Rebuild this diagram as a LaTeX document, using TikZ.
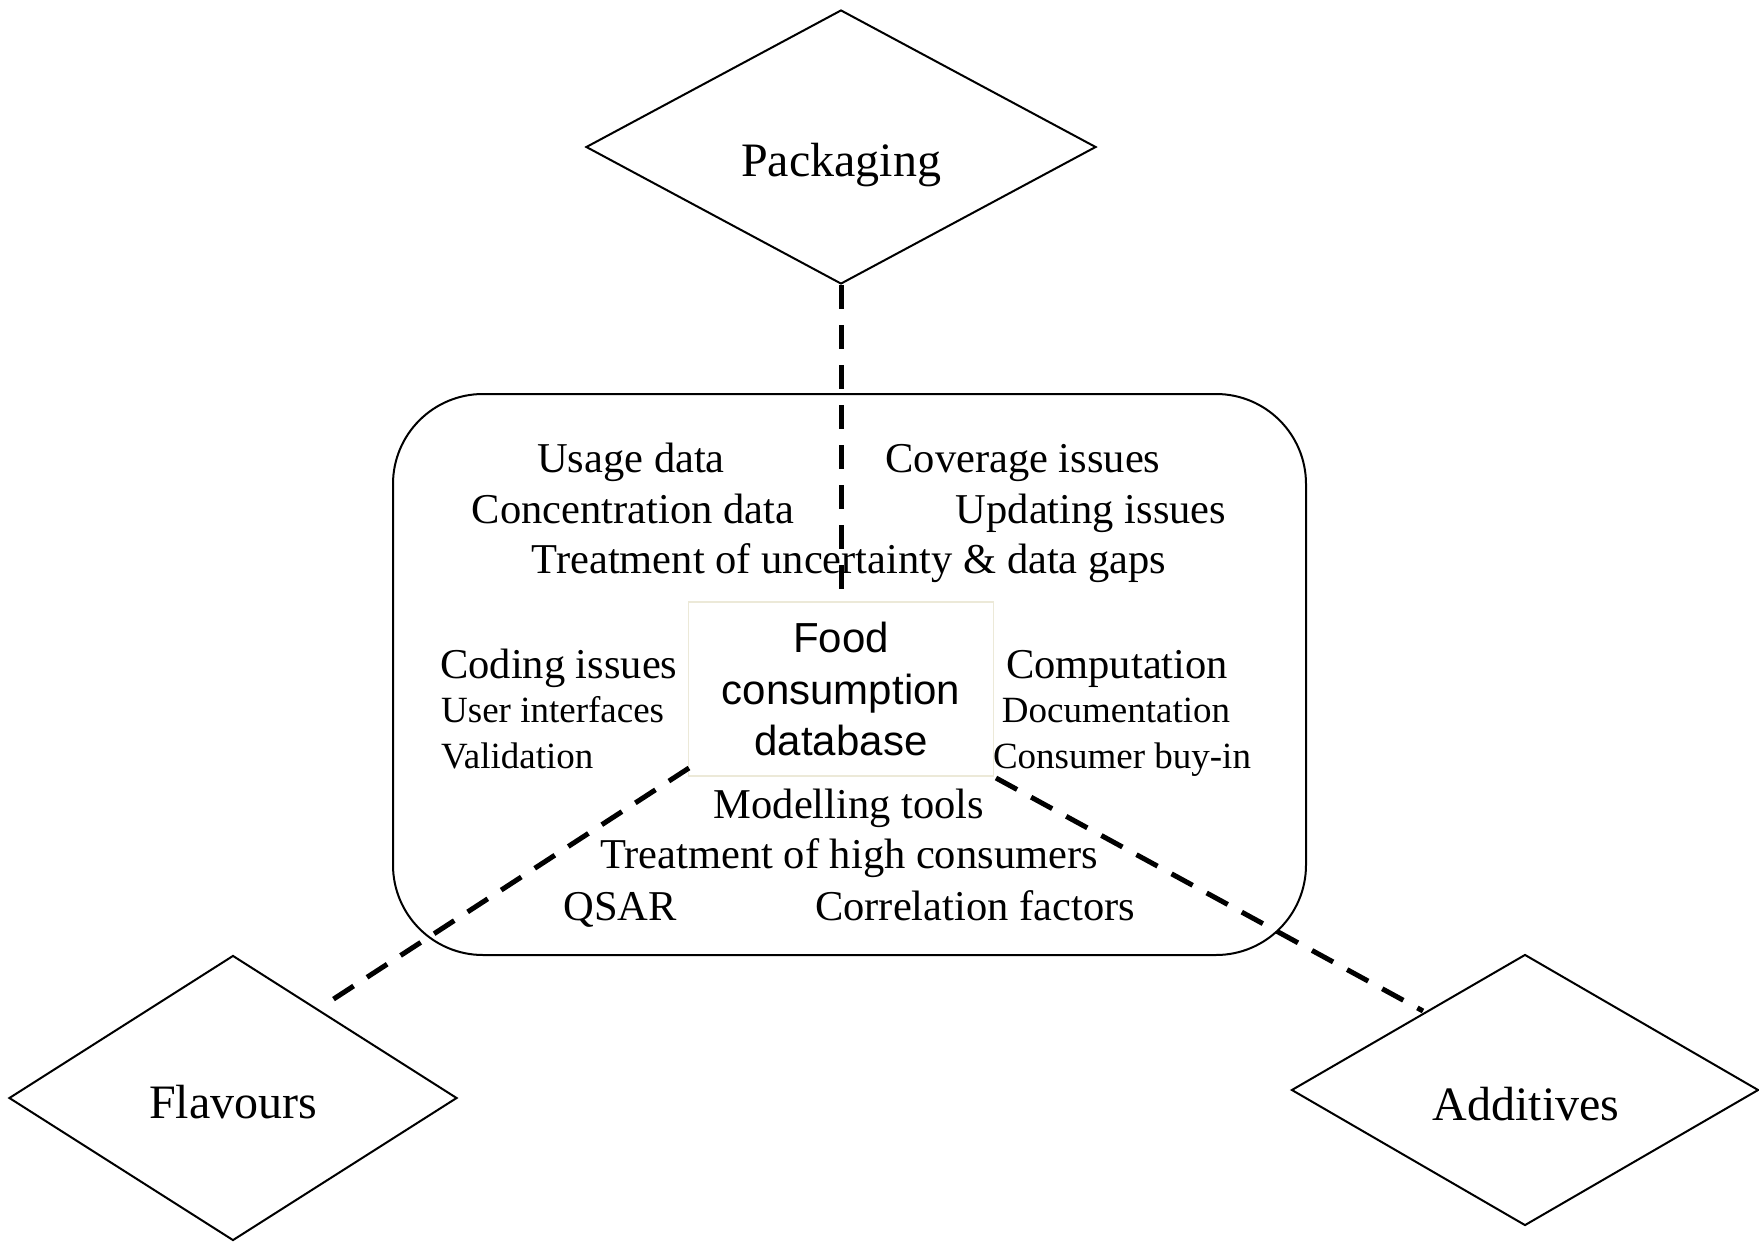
\documentclass[tikz,border=0pt]{standalone}
\usepackage{fontspec}
\setmainfont{Liberation Serif}
\newfontfamily\arialf{Liberation Sans}
\usetikzlibrary{shapes.geometric}
\begin{document}
\begin{tikzpicture}[x=1pt,y=-1pt,
  dia/.style={draw,line width=2pt,shape=diamond,inner sep=0pt},
  big/.style={font=\fontsize{42.5}{50}\selectfont,anchor=base,inner sep=0pt},
  small/.style={font=\fontsize{37}{44}\selectfont,anchor=base,inner sep=0pt},
  dlabel/.style={font=\fontsize{48}{56}\selectfont,anchor=base,inner sep=0pt},
  link/.style={line width=5pt,dash pattern=on 24pt off 16pt},
  dbbox/.style={draw={rgb,255:red,236;green,233;blue,216},line width=1.5pt,fill=white,
     minimum width=305pt,minimum height=174pt,inner sep=0pt,align=center,
     font=\arialf\fontsize{42}{51.5}\selectfont}]
\useasboundingbox (0,0) rectangle (1759,1242);
% diamonds
\node[dia,minimum width=510pt,minimum height=274pt] (pack) at (841,147) {};
\node[dia,minimum width=448pt,minimum height=285pt] (flav) at (233,1098) {};
\node[dia,minimum width=467pt,minimum height=271pt] (addi) at (1525,1090) {};
\node[dlabel] (packt) at (841,176) {Packaging};
\node[dlabel] (flavt) at (233,1118) {Flavours};
\node[dlabel] (addit) at (1526,1120) {Additives};
% rounded frame
\draw[line width=2pt,rounded corners=90pt] (393,394) rectangle (1306,955);
% texts
\node[big] (t1) at (631,472) {Usage data};
\node[big] (t2) at (1023,472) {Coverage issues};
\node[big] (t3) at (633,523) {Concentration data};
\node[big] (t4) at (1091,523) {Updating issues};
\node[big] (t5) at (849,573) {Treatment of uncertainty \& data gaps};
\node[big,anchor=base west] (t6) at (440,678) {Coding issues};
\node[small,anchor=base west] (t7) at (441,722) {User interfaces};
\node[small,anchor=base west] (t8) at (441,768) {Validation};
\node[big] (t9) at (1117,678) {Computation};
\node[small] (t10) at (1116,722) {Documentation};
\node[small] (t11) at (1122,768) {Consumer buy-in};
\node[big] (t12) at (849,818) {Modelling tools};
\node[big] (t13) at (849,868) {Treatment of high consumers};
\node[big] (t14) at (620,920) {QSAR};
\node[big] (t15) at (975,920) {Correlation factors};
% center box
\node[dbbox] (db) at (841,689) {Food\\consumption\\database};
% connectors
\coordinate (lstart) at (689,768);
\coordinate (lend) at (329,1002);
\coordinate (rstart) at (996,778);
\coordinate (rend) at (1423,1011);
\draw[link] (pack.south) -- (db.north);
\draw[link] (lstart) -- (lend);
\draw[link] (rstart) -- (rend);
\end{tikzpicture}
\end{document}
